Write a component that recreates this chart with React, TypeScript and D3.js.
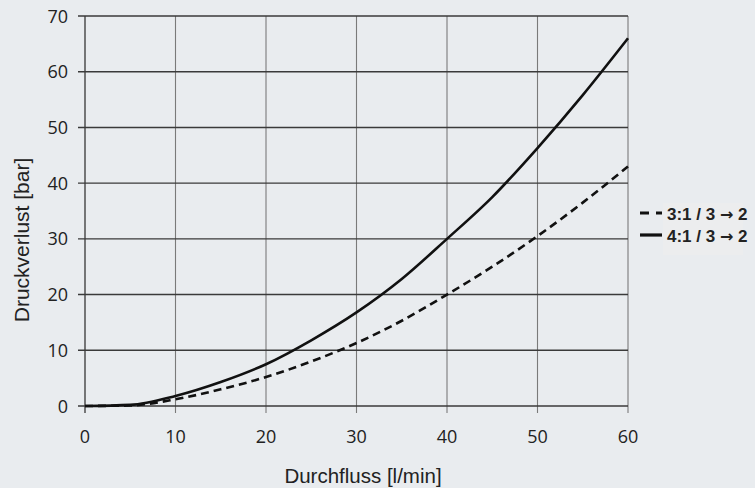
import React from 'react'
import * as d3 from 'd3'

// values
const flow = [0, 5, 10, 15, 20, 25, 30, 35, 40, 45, 50, 55, 60]
const loss31 = [0, 0.1, 1.2, 3, 5.2, 8, 11.3, 15.3, 20, 25, 30.5, 36.5, 43]
const loss41 = [0, 0.2, 1.8, 4.3, 7.5, 11.8, 16.8, 22.8, 30, 37.5, 46.3, 55.8, 66]
const xTicks = [0, 10, 20, 30, 40, 50, 60]
const yTicks = [0, 10, 20, 30, 40, 50, 60, 70]
const seriesNames = ['3:1 / 3', '4:1 / 3']

const W = 755
const H = 488
const left = 85
const right = 628
const top = 16
const bottom = 406

const App = () => {
  const x = d3.scaleLinear().domain([0, 60]).range([left, right])
  const y = d3.scaleLinear().domain([0, 70]).range([bottom, top])

  const line = d3.line<number>()
    .x((d, i) => x(flow[i]))
    .y((d) => y(d))
    .curve(d3.curveMonotoneX)

  const tickFont = '"Open Sans", sans-serif'
  const titleFont = '"Liberation Sans", Arial, sans-serif'

  return (
    <svg width={W} height={H} style={{ position: 'absolute', left: 0, top: 0, background: '#e9ecef' }}>
      <rect x={0} y={0} width={W} height={H} fill='#e9ecef' />
      {/* vertical grid */}
      {xTicks.map((t) => (
        <line key={'vx' + t} x1={x(t)} x2={x(t)} y1={top} y2={bottom + 7}
          stroke={t === 0 ? '#444' : '#7a7a7a'} strokeWidth={t === 0 ? 1.4 : 1.1} />
      ))}
      {/* horizontal grid */}
      {yTicks.map((t) => (
        <line key={'hy' + t} x1={left - 7} x2={right} y1={y(t)} y2={y(t)}
          stroke='#3a3a3a' strokeWidth={1.4} />
      ))}
      {xTicks.map((t) => (
        <text key={'xt' + t} x={x(t)} y={443} textAnchor='middle' fontFamily={tickFont}
          fontSize={18} fill='#222'>{t}</text>
      ))}
      {yTicks.map((t) => (
        <text key={'yt' + t} x={68} y={y(t) + 6.5} textAnchor='end' fontFamily={tickFont}
          fontSize={18} fill='#222'>{t}</text>
      ))}
      <path d={line(loss31) || ''} fill='none' stroke='#111' strokeWidth={2.6} strokeDasharray='8,5' />
      <path d={line(loss41) || ''} fill='none' stroke='#111' strokeWidth={2.6} />

      <text x={363} y={483} textAnchor='middle' fontFamily={titleFont}
        fontSize={20.5} fill='#222'>Durchfluss [l/min]</text>
      <text transform='translate(29, 240) rotate(-90)' textAnchor='middle'
        fontFamily={titleFont} fontSize={21} fill='#222'>Druckverlust [bar]</text>

      {/* legend */}
      <rect x={663} y={203} width={80} height={52} fill='#ecedee' />
      {seriesNames.map((name, i) => (
        <g key={name} transform={`translate(640, ${213 + i * 22})`}>
          <line x1={0} x2={22} y1={0} y2={0} stroke='#111' strokeWidth={3.2}
            strokeDasharray={i === 0 ? '9,7' : undefined} />
          <text x={27} y={6.5} fontFamily={titleFont} fontWeight='bold'
            fontSize={17} fill='#222'>
            {name + ' '}
            <tspan fontFamily='"DejaVu Sans", sans-serif' fontSize={16}>{'\u2192'}</tspan>
            {' 2'}
          </text>
        </g>
      ))}
    </svg>
  )
}

export default App
